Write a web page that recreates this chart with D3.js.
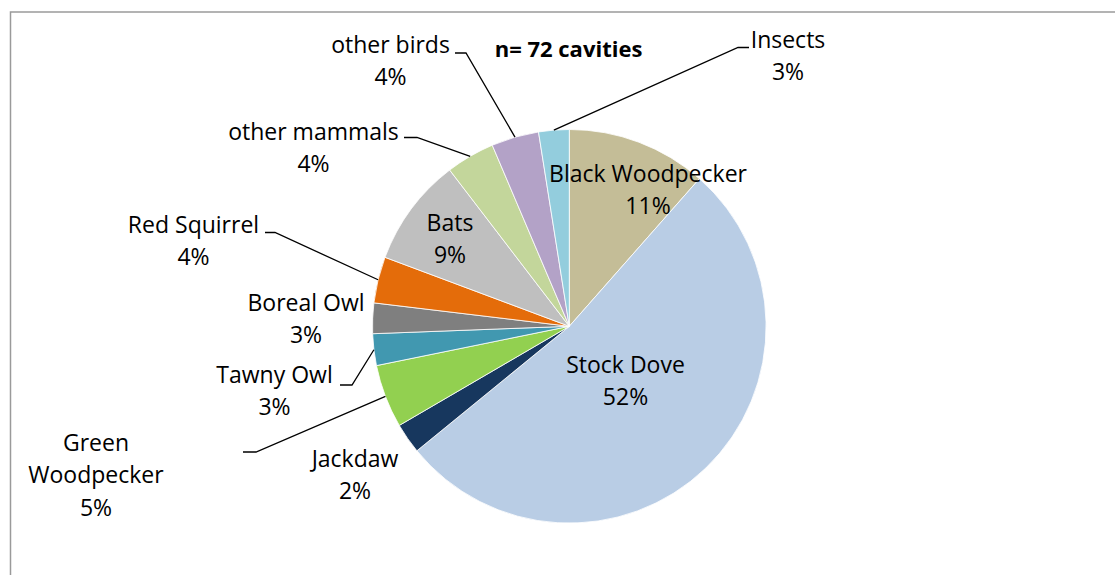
<!DOCTYPE html>
<html>
<head>
<meta charset="utf-8">
<script src="https://cdn.jsdelivr.net/npm/d3@7"></script>
<style>
  html, body { margin: 0; padding: 0; background: #fff; }
  svg { display: block; }
  text { font-family: "Open Sans", "DejaVu Sans", sans-serif; fill: #000; }
</style>
</head>
<body>
<svg id="chart" width="1115" height="575"></svg>
<script>
// ---- data ----
const categories = ["Black Woodpecker", "Stock Dove", "Jackdaw", "Green Woodpecker", "Tawny Owl",
  "Boreal Owl", "Red Squirrel", "Bats", "other mammals", "other birds", "Insects"];
const shares = [11.5, 52.6, 2.5, 5.2, 2.6, 2.5, 3.8, 8.9, 4.0, 3.9, 2.5];
const percentLabels = ["11%", "52%", "2%", "5%", "3%", "3%", "4%", "9%", "4%", "4%", "3%"];
const titleText = "n= 72 cavities";

// ---- styles ----
const colors = ["#C4BD97", "#B9CDE5", "#17375E", "#92D050", "#4198B0",
  "#7F7F7F", "#E46C0A", "#BFBFBF", "#C3D69B", "#B3A2C7", "#93CDDD"];

// ---- layout (label positions) ----
const labelLayout = {
  "Black Woodpecker": { x: 648, y: 182, lines: ["Black Woodpecker"] },
  "Stock Dove": { x: 625.5, y: 373, lines: ["Stock Dove"] },
  "Jackdaw": { x: 355, y: 467, lines: ["Jackdaw"] },
  "Green Woodpecker": { x: 96, y: 451, lines: ["Green", "Woodpecker"], leader: [243, 256, 452] },
  "Tawny Owl": { x: 274.5, y: 382.5, lines: ["Tawny Owl"], leader: [340, 352, 385] },
  "Boreal Owl": { x: 306, y: 311, lines: ["Boreal Owl"] },
  "Red Squirrel": { x: 193.5, y: 232.5, lines: ["Red Squirrel"], leader: [265, 275, 232.5] },
  "Bats": { x: 450, y: 230.5, lines: ["Bats"] },
  "other mammals": { x: 313.5, y: 139.5, lines: ["other mammals"], leader: [404, 417, 137.5] },
  "other birds": { x: 390.5, y: 53, lines: ["other birds"], leader: [455, 466, 53] },
  "Insects": { x: 788, y: 47.5, lines: ["Insects"], leader: [749, 738, 47.5] }
};

const svg = d3.select("#chart");
const cx = 569.3, cy = 326.3, R = 196.8;
const fontSize = 23, lineH = 32.3;

// chart area border
svg.append("rect")
  .attr("x", 10.5).attr("y", 12).attr("width", 1300).attr("height", 800)
  .attr("fill", "none").attr("stroke", "#9A9A9A").attr("stroke-width", 1.5);

const data = categories.map((c, i) => ({ name: c, value: shares[i], pct: percentLabels[i], color: colors[i] }));

const pie = d3.pie().sort(null).value(d => d.value);
const arcs = pie(data);
const arc = d3.arc().innerRadius(0).outerRadius(R);

const g = svg.append("g").attr("transform", `translate(${cx},${cy})`);
g.selectAll("path.slice")
  .data(arcs)
  .join("path")
  .attr("class", "slice")
  .attr("d", arc)
  .attr("fill", d => d.data.color)
  .attr("stroke", "#ffffff")
  .attr("stroke-width", 0.8)
  .attr("stroke-linejoin", "round");

// leader lines
arcs.forEach(a => {
  const L = labelLayout[a.data.name];
  if (!L.leader) return;
  const mid = (a.startAngle + a.endAngle) / 2;
  const px = cx + R * Math.sin(mid);
  const py = cy - R * Math.cos(mid);
  const [x0, x1, ly] = L.leader;
  svg.append("path")
    .attr("d", d3.line()([[x0, ly], [x1, ly], [px, py]]))
    .attr("fill", "none")
    .attr("stroke", "#000")
    .attr("stroke-width", 1.3);
});

// labels
arcs.forEach(a => {
  const L = labelLayout[a.data.name];
  const lines = L.lines.concat([a.data.pct]);
  const t = svg.append("text")
    .attr("text-anchor", "middle")
    .attr("font-size", fontSize);
  lines.forEach((ln, i) => {
    t.append("tspan").attr("x", L.x).attr("y", L.y + i * lineH).text(ln);
  });
});

// title
svg.append("text")
  .attr("x", 568.5).attr("y", 56.5)
  .attr("text-anchor", "middle")
  .attr("font-size", 22)
  .attr("font-weight", "bold")
  .text(titleText);
</script>
</body>
</html>
